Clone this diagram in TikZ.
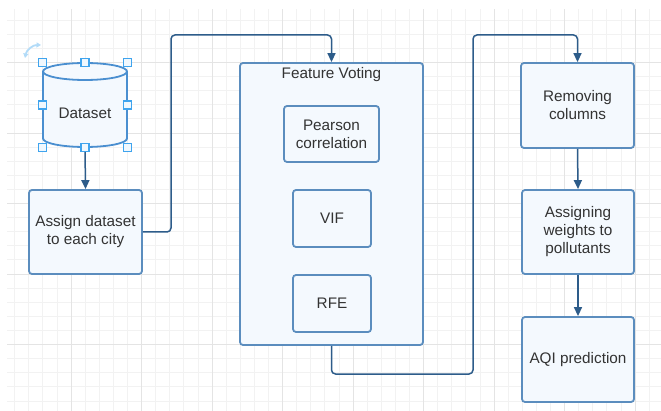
\documentclass[tikz,border=0pt]{standalone}
\usepackage{fontspec}
\setmainfont{Liberation Sans}
\usetikzlibrary{arrows.meta}
\definecolor{boxline}{HTML}{5B8DBE}
\definecolor{boxfill}{HTML}{F4F9FE}
\definecolor{arrline}{HTML}{2D5C8A}
\definecolor{txtgray}{HTML}{333333}
\definecolor{gridminor}{HTML}{F2F2F2}
\definecolor{gridmajor}{HTML}{E4E4E4}
\definecolor{selblue}{HTML}{3FA4EE}
\definecolor{cylline}{HTML}{4A8FD0}
\tikzset{
  txt/.style={text=txtgray, font=\fontsize{15.3}{18}\selectfont, inner sep=0pt, align=center},
  box/.style={txt, draw=boxline, fill=boxfill, line width=1.8pt, rounded corners=3pt},
  conn/.style={draw=arrline, line width=1.5pt, rounded corners=4pt, -{Triangle[length=9pt,width=8pt]}},
  handle/.style={draw=selblue, fill=selblue!8, line width=1.2pt, minimum size=8pt, inner sep=0pt},
  cylbox/.style={minimum width=84pt, minimum height=84pt, inner sep=0pt},
}
\begin{document}
\begin{tikzpicture}[x=1pt,y=-1pt]
    \useasboundingbox (0,0) rectangle (661,411);
    \fill[white] (0,0) rectangle (661,411);
    % grid
    \begin{scope}
        \clip (7,10) rectangle (661,411);
        \foreach \i in {0,...,47} \draw[gridminor, line width=0.8pt] (0.5+14.1*\i,0) -- (0.5+14.1*\i,411);
        \foreach \j in {0,...,30} \draw[gridminor, line width=0.8pt] (0,-8+14.1*\j) -- (661,-8+14.1*\j);
        \foreach \i in {0,5,...,45} \draw[gridmajor, line width=0.8pt] (0.5+14.1*\i,0) -- (0.5+14.1*\i,411);
        \foreach \j in {0,5,...,30} \draw[gridmajor, line width=0.8pt] (0,-8+14.1*\j) -- (661,-8+14.1*\j);
    \end{scope}

    % dataset cylinder
    \node[cylbox] (data) at (85,105) {};
    \filldraw[draw=cylline, fill=boxfill, line width=1.8pt] (43,71.5) -- (43,138.5)
        arc[start angle=180, end angle=0, x radius=42, y radius=8.5] -- (127,71.5)
        arc[start angle=0, end angle=-180, x radius=42, y radius=8.5] -- cycle;
    \draw[draw=cylline, line width=1.8pt] (43,71.5) arc[start angle=180, end angle=0, x radius=42, y radius=8.5];
    \node[txt] (datatext) at (85,113) {Dataset};

    \node[box, minimum width=113pt, minimum height=84pt] (assign) at (85.5,232) {Assign dataset\\to each city};

    \node[box, minimum width=183pt, minimum height=282pt,
        label={[txt, anchor=north, yshift=-5pt]north:Feature Voting}] (vote) at (331.5,204) {};
    \node[box, minimum width=95pt, minimum height=56pt] (pearson) at (331.5,134) {Pearson\\correlation};
    \node[box, minimum width=78pt, minimum height=57pt] (vif) at (332,218.5) {VIF};
    \node[box, minimum width=78pt, minimum height=57pt] (rfe) at (332,303.5) {RFE};

    \node[box, minimum width=113pt, minimum height=85pt] (remove) at (577.5,105.5) {Removing\\columns};
    \node[box, minimum width=112pt, minimum height=84pt] (weights) at (578,232) {Assigning\\weights to\\pollutants};
    \node[box, minimum width=112pt, minimum height=85pt] (aqi) at (578,359.5) {AQI prediction};

    \coordinate (up1) at (171,35);
    \coordinate (down1) at (473,374);
    \coordinate (up2) at (577.5,35);

    \draw[conn] (data.south) -- (assign.north);
    \draw[conn] (assign.east) -| (up1) -| (vote.north);
    \draw[conn] (vote.south) |- (down1) |- (up2) -- (remove.north);
    \draw[conn] (remove.south) -- (weights.north);
    \draw[conn] (weights.south) -- (aqi.north);

    % selection handles
    \foreach \a in {north west, north, north east, west, east, south west, south, south east}
        \node[handle] at (data.\a) {};
    \draw[selblue!40, line width=1.8pt, {Triangle[length=4.5pt,width=5pt]}-{Triangle[length=4.5pt,width=5pt]}]
        (25,58) to[bend left=40] (41,45);
\end{tikzpicture}
\end{document}
